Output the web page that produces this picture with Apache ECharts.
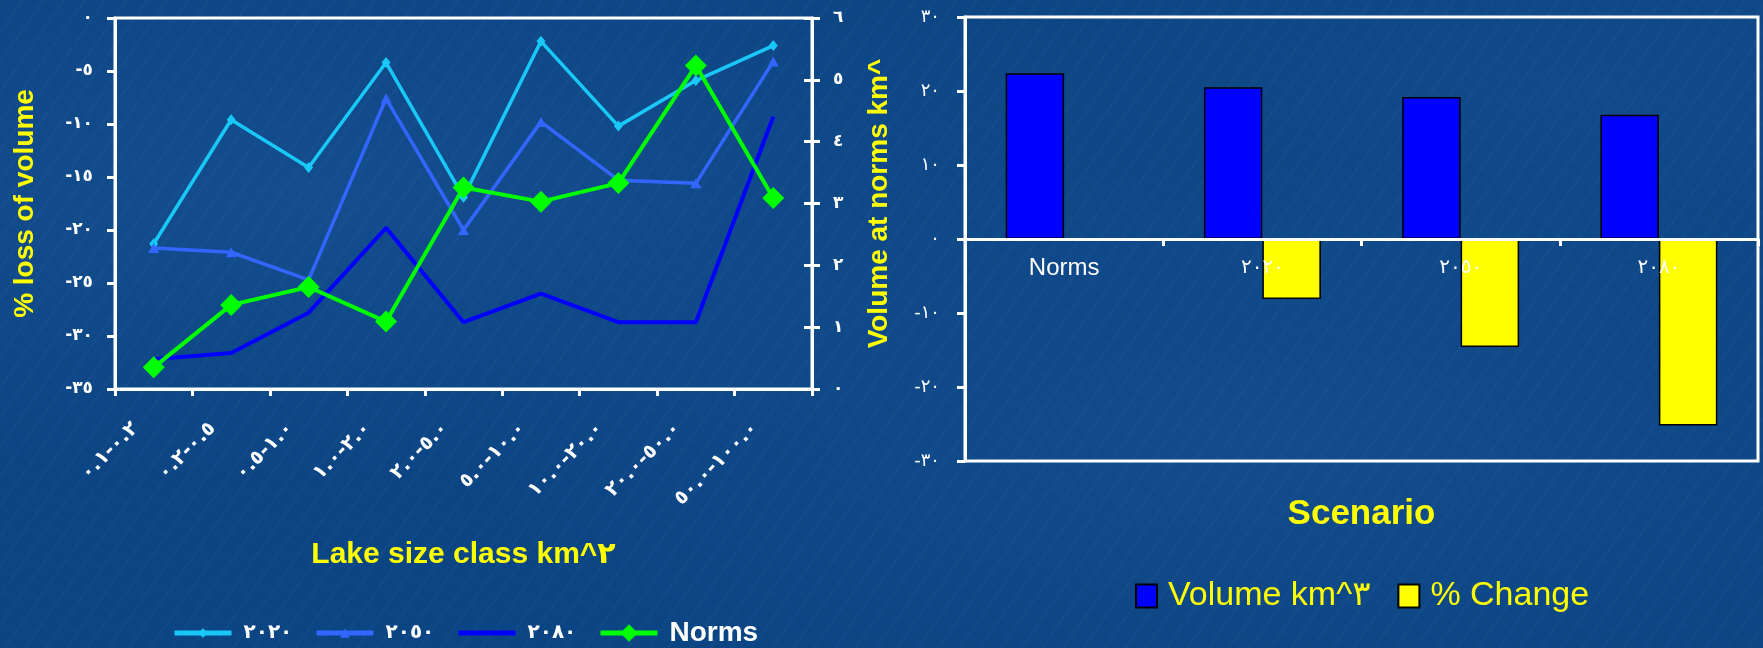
<!DOCTYPE html>
<html>
<head>
<meta charset="utf-8">
<script src="https://cdn.jsdelivr.net/npm/echarts@6/dist/echarts.min.js"></script>
<style>
  html, body { margin: 0; padding: 0; }
  body {
    width: 1763px; height: 648px; overflow: hidden;
    background-color: #0c4584;
    background-image:
      radial-gradient(ellipse at 18% 30%, rgba(70,130,200,0.14), transparent 45%),
      radial-gradient(ellipse at 72% 68%, rgba(70,130,200,0.12), transparent 45%),
      radial-gradient(ellipse at 90% 15%, rgba(70,130,200,0.09), transparent 35%),
      repeating-linear-gradient(125deg, rgba(120,170,230,0.03) 0 3px, transparent 3px 17px),
      repeating-linear-gradient(40deg, rgba(0,25,70,0.04) 0 2px, transparent 2px 13px);
  }
  #chart { width: 1763px; height: 648px; }
</style>
</head>
<body>
<div id="chart"></div>
<script>
// Lake size classes (km^2), written with Arabic-Indic digits
const sizeClasses = ['٠.١-٠.٢', '٠.٢-٠.٥', '٠.٥-١.٠', '١.٠-٢.٠', '٢.٠-٥.٠',
                     '٥.٠-١٠.٠', '١٠.٠-٢٠.٠', '٢٠.٠-٥٠.٠', '٥٠.٠-١٠٠.٠'];
// % loss of volume per size class
const loss2020 = [-21.3, -9.6, -14.1, -4.2, -16.9, -2.2, -10.2, -5.9, -2.6];
const loss2050 = [-21.7, -22.1, -24.7, -7.6, -20.0, -9.8, -15.3, -15.6, -4.1];
const loss2080 = [-32.2, -31.6, -27.8, -19.8, -28.7, -26.0, -28.7, -28.7, -9.3];
// Volume at norms (km^3) per size class
const normsVolume = [0.35, 1.36, 1.65, 1.09, 3.26, 3.03, 3.33, 5.23, 3.09];

// Scenario totals
const scenarios = ['Norms', '٢٠٢٠', '٢٠٥٠', '٢٠٨٠'];
const volumeKm3 = [22.4, 20.5, 19.2, 16.8];
const pctChange = ['-', -8.1, -14.6, -25.2];

const lineNames = ['٢٠٢٠', '٢٠٥٠', '٢٠٨٠', 'Norms'];
const barNames = ['Volume km^٣', '% Change'];

const DIGITS = '٠١٢٣٤٥٦٧٨٩';
const toArabic = v => String(v).replace(/[0-9]/g, d => DIGITS[d]);
const LRM = '\u200E';

const WHITE = '#ffffff';
const YELLOW = '#ffff00';
const LATIN = "'Liberation Sans', 'DejaVu Sans', sans-serif";
const ARABIC = "'DejaVu Sans', sans-serif";

const frameLine = { show: true, onZero: false, lineStyle: { color: WHITE, width: 3 } };
const frameTick = (len, inside) => ({ show: true, inside: !!inside, length: len, lineStyle: { color: WHITE, width: 3 } });
const titleStyle = (size) => ({ color: YELLOW, fontSize: size, fontWeight: 'bold', fontFamily: LATIN });

const chart = echarts.init(document.getElementById('chart'), null, { renderer: 'canvas' });

function lineLegend(name, left, itemHeight, textStyle, extra) {
  return Object.assign({
    data: [name], left: left, top: 633 - Math.max(itemHeight, textStyle.fontSize) / 2,
    orient: 'horizontal', padding: 0, itemWidth: 57, itemHeight: itemHeight,
    selectedMode: false, lineStyle: { width: 5 },
    textStyle: Object.assign({ color: WHITE, fontWeight: 'bold', padding: [0, 0, 0, 7] }, textStyle)
  }, extra || {});
}

// right-hand panel: 0 sits halfway down its 444px plot height
const RIGHT_TOP = 17, RIGHT_H = 444;

const option = {
  animation: false,
  grid: [
    { left: 115, top: 18, width: 697, height: 371, show: true, borderColor: WHITE, borderWidth: 3,
      backgroundColor: 'transparent', outerBoundsMode: 'none', containLabel: false },
    { left: 965, top: RIGHT_TOP, width: 793, height: RIGHT_H, show: true, borderColor: WHITE, borderWidth: 3,
      backgroundColor: 'transparent', outerBoundsMode: 'none', containLabel: false }
  ],
  legend: [
    lineLegend(lineNames[0], 172, 12, { fontSize: 20, fontFamily: ARABIC }),
    lineLegend(lineNames[1], 314, 12, { fontSize: 20, fontFamily: ARABIC }),
    lineLegend(lineNames[2], 456, 12, { fontSize: 20, fontFamily: ARABIC }, { itemStyle: { opacity: 0 } }),
    lineLegend(lineNames[3], 598, 22, { fontSize: 28, fontFamily: LATIN }),
    {
      data: barNames, left: 1135, top: 579, padding: 0, itemGap: 27,
      itemWidth: 21, itemHeight: 23, icon: 'rect', selectedMode: false,
      textStyle: { color: YELLOW, fontSize: 34, fontFamily: LATIN, padding: [0, 0, 0, 6] }
    }
  ],
  xAxis: [
    {
      type: 'category', gridIndex: 0, data: sizeClasses, boundaryGap: true, position: 'bottom',
      axisLine: frameLine, axisTick: Object.assign(frameTick(7), { interval: 0 }),
      splitLine: { show: false },
      axisLabel: {
        interval: 0, rotate: 45, margin: 18, color: WHITE, fontSize: 20, fontWeight: 'bold',
        fontFamily: ARABIC, padding: [0, 26, 0, 0],
        formatter: s => s.replace('-', LRM + '-' + LRM)
      },
      name: 'Lake size class km^٢', nameLocation: 'middle', nameGap: 151, nameTextStyle: titleStyle(30)
    },
    {
      // category axis drawn along the zero line of the right-hand panel, above the bars
      type: 'category', gridIndex: 1, data: scenarios, boundaryGap: true, position: 'bottom',
      offset: -RIGHT_H / 2, z: 10,
      axisLine: frameLine, axisTick: Object.assign(frameTick(7), { interval: 0 }),
      splitLine: { show: false },
      axisLabel: {
        interval: 0, margin: 15,
        formatter: s => (s === 'Norms' ? '{n|' + s + '}' : '{d|' + s + '}'),
        rich: {
          n: { color: WHITE, fontSize: 24, fontFamily: LATIN, lineHeight: 28 },
          d: { color: WHITE, fontSize: 20, fontFamily: ARABIC, lineHeight: 28 }
        }
      },
      name: 'Scenario', nameLocation: 'middle', nameGap: 258, nameTextStyle: titleStyle(35)
    }
  ],
  yAxis: [
    {
      type: 'value', gridIndex: 0, position: 'left', min: -35, max: 0, interval: 5,
      axisLine: frameLine, axisTick: frameTick(8), splitLine: { show: false },
      axisLabel: { color: WHITE, fontSize: 17, fontWeight: 'bold', fontFamily: ARABIC, margin: 22, formatter: v => toArabic(v) },
      name: '% loss of volume', nameLocation: 'middle', nameGap: 76, nameTextStyle: titleStyle(28)
    },
    {
      type: 'value', gridIndex: 0, position: 'right', min: 0, max: 6, interval: 1,
      axisLine: frameLine, axisTick: frameTick(8), splitLine: { show: false },
      axisLabel: { color: WHITE, fontSize: 17, fontWeight: 'bold', fontFamily: ARABIC, margin: 21, formatter: v => toArabic(v) },
      name: 'Volume at norms km^', nameLocation: 'middle', nameGap: 53, nameTextStyle: titleStyle(28)
    },
    {
      // inner half of the crossing ticks on the right-hand scale
      type: 'value', gridIndex: 0, position: 'right', min: 0, max: 6, interval: 1,
      axisLine: { show: false }, axisTick: frameTick(8, true), axisLabel: { show: false }, splitLine: { show: false }
    },
    {
      type: 'value', gridIndex: 1, position: 'left', min: -30, max: 30, interval: 10,
      axisLine: frameLine, axisTick: frameTick(8), splitLine: { show: false },
      axisLabel: { color: WHITE, fontSize: 18, fontFamily: ARABIC, margin: 25, formatter: v => toArabic(v) }
    }
  ],
  series: [
    {
      name: lineNames[0], type: 'line', xAxisIndex: 0, yAxisIndex: 0, data: loss2020,
      symbol: 'diamond', symbolSize: [9, 11], showAllSymbol: true,
      lineStyle: { color: '#19c8f7', width: 3.5 }, itemStyle: { color: '#19c8f7' }
    },
    {
      name: lineNames[1], type: 'line', xAxisIndex: 0, yAxisIndex: 0, data: loss2050,
      symbol: 'triangle', symbolSize: [11, 10], showAllSymbol: true,
      lineStyle: { color: '#3366ff', width: 3.5 }, itemStyle: { color: '#3366ff' }
    },
    {
      name: lineNames[2], type: 'line', xAxisIndex: 0, yAxisIndex: 0, data: loss2080,
      symbol: 'none',
      lineStyle: { color: '#0000ff', width: 4 }, itemStyle: { color: '#0000ff' }
    },
    {
      name: lineNames[3], type: 'line', xAxisIndex: 0, yAxisIndex: 1, data: normsVolume,
      symbol: 'diamond', symbolSize: [22, 22], showAllSymbol: true,
      lineStyle: { color: '#00ff00', width: 4 }, itemStyle: { color: '#00ff00' }
    },
    {
      name: barNames[0], type: 'bar', xAxisIndex: 1, yAxisIndex: 3, data: volumeKm3,
      barGap: '0%', barCategoryGap: '41%',
      itemStyle: { color: '#0000ff', borderColor: '#000000', borderWidth: 1.5 }
    },
    {
      name: barNames[1], type: 'bar', xAxisIndex: 1, yAxisIndex: 3, data: pctChange,
      barGap: '0%', barCategoryGap: '41%',
      itemStyle: { color: '#ffff00', borderColor: '#000000', borderWidth: 1.5 }
    }
  ]
};

chart.setOption(option);
</script>
</body>
</html>
